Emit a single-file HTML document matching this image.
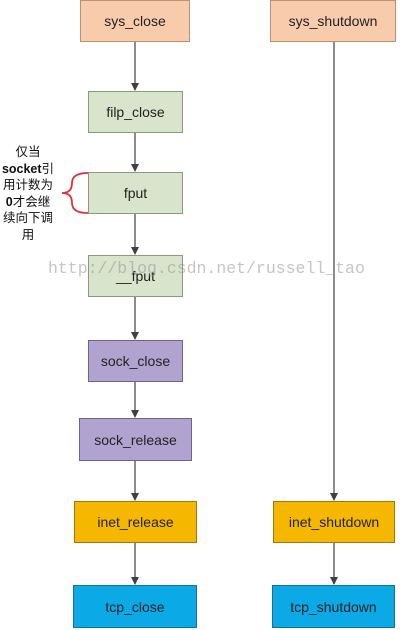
<!DOCTYPE html>
<html><head><meta charset="utf-8"><style>
body{margin:0;width:401px;height:630px;background:#fff;position:relative;overflow:hidden;font-family:"Liberation Sans","Noto Sans CJK SC",sans-serif}
.b{position:absolute;box-sizing:border-box;border:1px solid;display:flex;align-items:center;justify-content:center;font-size:14px;color:#222}
.o{background:#f8cbad;border-color:#c09070}
.g{background:#d8e4cc;border-color:#8a9a7a}
.p{background:#b1a3cf;border-color:#6f6290}
.y{background:#f5b700;border-color:#9a7a10}
.c{background:#0ba9e6;border-color:#1a6f95}
.t{position:absolute;left:0;width:56px;text-align:center;font-size:12.5px;line-height:16.5px;top:144px;color:#111}
.w{position:absolute;left:48px;top:259px;font-family:"Liberation Mono",monospace;font-size:16.5px;color:rgba(150,150,150,.55)}
</style></head><body>
<svg width="401" height="630" style="position:absolute;left:0;top:0">
<defs><marker id="a" markerWidth="8" markerHeight="8" refX="7" refY="4" orient="auto" markerUnits="userSpaceOnUse"><path d="M0,0 L8,4 L0,8 Z" fill="#404040"/></marker></defs>
<g stroke="#404040" stroke-width="1.2" marker-end="url(#a)">
<line x1="135" y1="42" x2="135" y2="90"/>
<line x1="135" y1="133" x2="135" y2="171"/>
<line x1="135" y1="214" x2="135" y2="254"/>
<line x1="135" y1="297" x2="135" y2="339"/>
<line x1="135" y1="382" x2="135" y2="417"/>
<line x1="135" y1="461" x2="135" y2="500"/>
<line x1="135" y1="543" x2="135" y2="584"/>
<line x1="334" y1="42" x2="334" y2="500"/>
<line x1="334" y1="543" x2="334" y2="584"/>
</g>
<path d="M88,173 Q72,173 72,183 Q72,193 62,193 Q72,193 72,203 Q72,213 88,213" fill="none" stroke="#e0303a" stroke-width="1.8"/>
</svg>
<div class="b o" style="left:80px;top:0;width:110px;height:42px">sys_close</div>
<div class="b o" style="left:270px;top:0;width:126px;height:42px">sys_shutdown</div>
<div class="b g" style="left:88px;top:91px;width:95px;height:42px">filp_close</div>
<div class="b g" style="left:88px;top:172px;width:95px;height:42px">fput</div>
<div class="b g" style="left:88px;top:255px;width:95px;height:42px">__fput</div>
<div class="b p" style="left:88px;top:340px;width:95px;height:42px">sock_close</div>
<div class="b p" style="left:79px;top:418px;width:113px;height:43px">sock_release</div>
<div class="b y" style="left:74px;top:501px;width:123px;height:42px">inet_release</div>
<div class="b y" style="left:273px;top:501px;width:122px;height:42px">inet_shutdown</div>
<div class="b c" style="left:73px;top:585px;width:124px;height:43px">tcp_close</div>
<div class="b c" style="left:272px;top:585px;width:123px;height:43px">tcp_shutdown</div>
<div class="t">仅当<br><b>socket</b>引<br>用计数为<br><b>0</b>才会继<br>续向下调<br>用</div>
<div class="w">http://blog.csdn.net/russell_tao</div>
</body></html>
